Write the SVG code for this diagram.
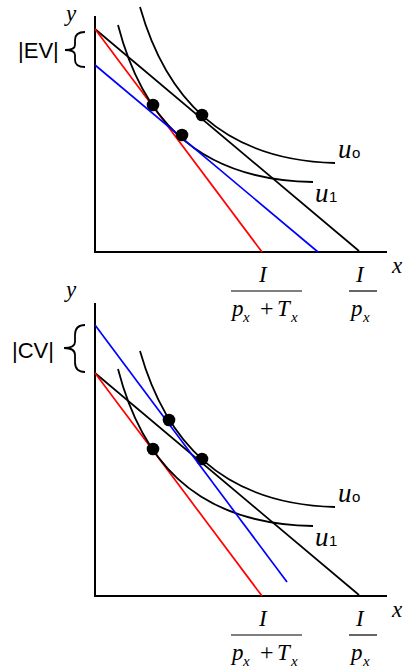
<svg xmlns="http://www.w3.org/2000/svg" xmlns:xlink="http://www.w3.org/1999/xlink" width="420" height="667" viewBox="0 0 420 667">
<style>
.ax{fill:none;stroke:#000;stroke-width:2}
.bk{fill:none;stroke:#000;stroke-width:1.7}
.rd{fill:none;stroke:#f00;stroke-width:1.7}
.bl{fill:none;stroke:#00f;stroke-width:1.7}
.cv{fill:none;stroke:#000;stroke-width:1.8}
.br{fill:none;stroke:#000;stroke-width:1.8}
.dot{fill:#000}
.it{font-family:"Liberation Serif",serif;font-style:italic;font-size:23px;fill:#000}
.iu{font-family:"Liberation Serif",serif;font-style:italic;font-size:27px;fill:#000}
.its{font-family:"Liberation Serif",serif;font-style:italic;font-size:15px;fill:#000}
.rm{font-family:"Liberation Serif",serif;font-size:24px;fill:#000}
.sn{font-family:"Liberation Sans",Arial,sans-serif;font-size:22px;fill:#000}
.sub{font-family:"Liberation Sans",Arial,sans-serif;font-size:15px;fill:#000}
.bar{stroke:#000;stroke-width:1.2}
</style>
<defs>
<path id="u0" class="cv" d="M140,7 C165,95 220,160 335,163"/>
<path id="u1" class="cv" d="M118,25 C140,110 190,180 313,182"/>
<g id="common">
<polyline class="ax" points="95,16 95,252 387,252"/>
<line class="bk" x1="95" y1="29" x2="359" y2="251"/>
<line class="rd" x1="95" y1="29" x2="262" y2="252"/>
<use xlink:href="#u0"/>
<use xlink:href="#u1"/>
<circle class="dot" cx="153" cy="105" r="6.3"/>
<circle class="dot" cx="202" cy="115" r="6.3"/>
<text class="iu" x="338" y="158">u</text><text class="sub" x="352" y="158">o</text>
<text class="iu" x="315" y="202">u</text><text class="sub" x="329" y="202">1</text>
<text class="it" x="392" y="273">x</text>
<text class="it" x="259" y="282">I</text>
<line class="bar" x1="231" y1="291" x2="302" y2="291"/>
<text class="it" x="232" y="316">p</text><text class="its" x="243" y="322">x</text>
<text class="rm" x="260" y="316">+</text>
<text class="it" x="277" y="316">T</text><text class="its" x="291" y="322">x</text>
<text class="it" x="356" y="282">I</text>
<line class="bar" x1="349" y1="291" x2="377" y2="291"/>
<text class="it" x="351" y="316">p</text><text class="its" x="363" y="322">x</text>
</g>
</defs>
<g id="ev-panel">
<use xlink:href="#common"/>
<line class="bl" x1="95" y1="65" x2="318" y2="252"/>
<circle class="dot" cx="182" cy="135" r="6.3"/>
<text class="it" x="66" y="21">y</text>
<text class="sn" x="18" y="58">|EV|</text>
<path class="br" d="M85,32 Q75,32 75,40 L75,45 Q75,50 65,50 Q75,50 75,55 L75,60 Q75,67 85,67"/>
</g>
<g id="cv-panel">
<g transform="translate(0,344)"><use xlink:href="#common"/></g>
<line class="ax" x1="95" y1="303" x2="95" y2="362"/>
<line class="bl" x1="95" y1="325" x2="287" y2="582"/>
<circle class="dot" cx="169" cy="420" r="6.3"/>
<text class="it" x="66" y="297">y</text>
<text class="sn" x="12" y="358">|CV|</text>
<path class="br" d="M85,325 Q75,325 75,335 L75,342 Q75,348 64,348 Q75,348 75,355 L75,362 Q75,372 85,372"/>
</g>
</svg>
